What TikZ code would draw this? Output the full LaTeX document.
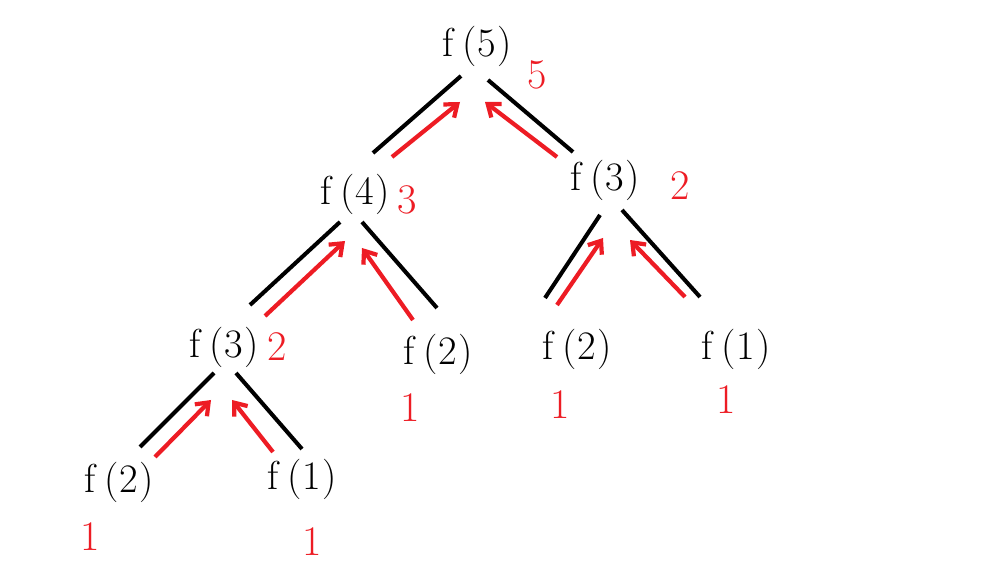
\documentclass[tikz,border=0pt]{standalone}
\usepackage{tikz}
\usetikzlibrary{arrows.meta,calc}
\definecolor{pred}{RGB}{237,28,36}
\newcommand\fcall[1]{f\kern5pt(\kern0.5pt#1\kern0.5pt)}

\begin{document}
\begin{tikzpicture}[x=0.02cm, y=-0.02cm, call/.style={inner sep=0pt,font=\fontsize{23}{27}\selectfont}, val/.style={inner sep=0pt,text=pred,font=\fontsize{24}{28}\selectfont}, edge/.style={line width=2.3pt,black}, back/.style={-{Straight Barb[length=2.2mm,width=3.4mm]},line width=2.4pt,pred}]
\useasboundingbox (0,0) rectangle (991,573);
% calls
\node[call] (f5) at (477,46) {\fcall{5}};
\node[call] (f4) at (355,194) {\fcall{4}};
\node[call] (f3r) at (605,180) {\fcall{3}};
\node[call] (f3l) at (224,347) {\fcall{3}};
\node[call] (f2m) at (438,354) {\fcall{2}};
\node[call] (f2r) at (577,349) {\fcall{2}};
\node[call] (f1r) at (736,349) {\fcall{1}};
\node[call] (f2b) at (119,482) {\fcall{2}};
\node[call] (f1b) at (302,479) {\fcall{1}};
% returned values
\node[val] (v5) at (537,75) {5};
\node[val] (v4) at (407,200) {3};
\node[val] (v3r) at (680,186) {2};
\node[val] (v3l) at (277,347) {2};
\node[val] (v2m) at (410,408) {1};
\node[val] (v2r) at (560,405) {1};
\node[val] (v1r) at (726,400) {1};
\node[val] (v2b) at (90,537) {1};
\node[val] (v1b) at (312,542) {1};
% calls going down
\draw[edge] ($(f5)+(-16,30)$) -- ($(f4)+(18,-41)$);
\draw[edge] ($(f5)+(11,34)$) -- ($(f3r)+(-32,-28)$);
\draw[edge] ($(f4)+(-15,28)$) -- ($(f3l)+(26,-42)$);
\draw[edge] ($(f4)+(7,28)$) -- ($(f2m)+(-1,-46)$);
\draw[edge] ($(f3r)+(-5,35)$) -- ($(f2r)+(-32,-51)$);
\draw[edge] ($(f3r)+(17,30)$) -- ($(f1r)+(-36,-52)$);
\draw[edge] ($(f3l)+(-10,26)$) -- ($(f2b)+(21,-35)$);
\draw[edge] ($(f3l)+(12,26)$) -- ($(f1b)+(0,-30)$);
% results going up
\draw[back] ($(f4)+(37,-37)$) -- ($(f5)+(-17,56)$);
\draw[back] ($(f3r)+(-48,-23)$) -- ($(f5)+(8,56)$);
\draw[back] ($(f3l)+(41,-31)$) -- ($(f4)+(-10,47)$);
\draw[back] ($(f2m)+(-25,-34)$) -- ($(f4)+(7,54)$);
\draw[back] ($(f2r)+(-20,-44)$) -- ($(f3r)+(-2,58)$);
\draw[back] ($(f1r)+(-51,-52)$) -- ($(f3r)+(25,60)$);
\draw[back] ($(f2b)+(36,-25)$) -- ($(f3l)+(-13,53)$);
\draw[back] ($(f1b)+(-29,-27)$) -- ($(f3l)+(8,53)$);
\end{tikzpicture}
\end{document}
